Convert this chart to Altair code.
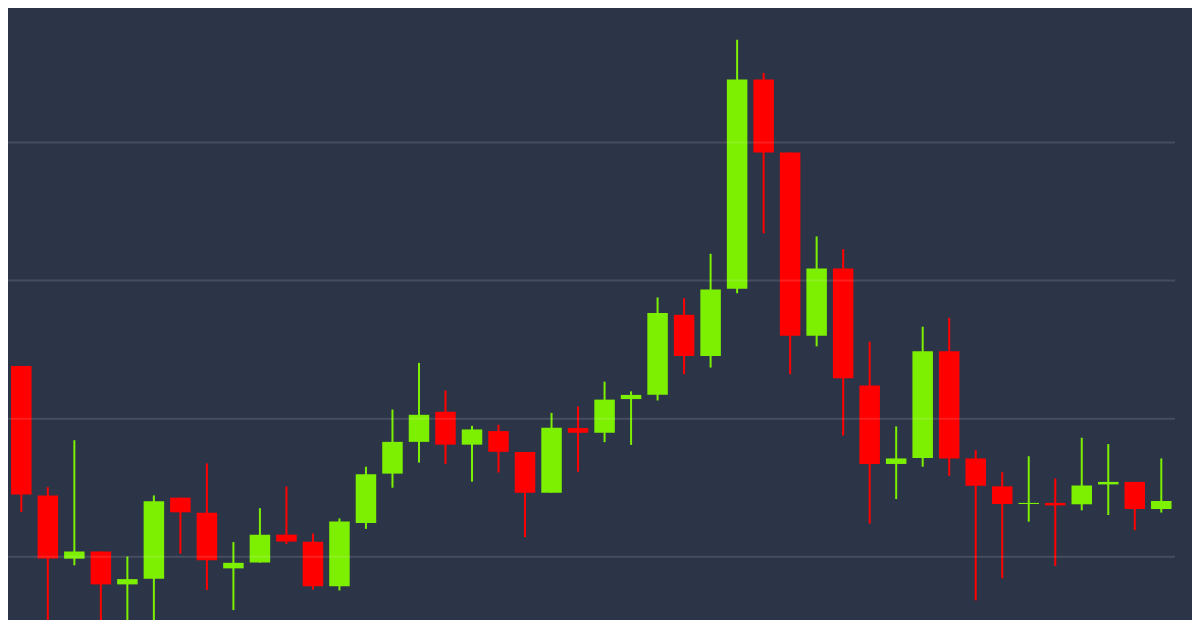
import altair as alt
import pandas as pd

# OHLC values (arbitrary price units)
opens = [7691, 7222, 6993, 7019, 6900, 6920, 7214, 7159, 6958, 6979,
         7080, 7054, 6893, 7122, 7301, 7416, 7525, 7406, 7455, 7379,
         7232, 7466, 7449, 7571, 7587, 7876, 7727, 7970, 8728, 8464,
         7800, 8044, 7620, 7336, 7358, 7744, 7356, 7255, 7191, 7195,
         7190, 7262, 7271, 7173]
highs = [7691, 7252, 7422, 7019, 7001, 7222, 7214, 7338, 7053, 7176,
         7254, 7084, 7139, 7326, 7533, 7702, 7602, 7474, 7478, 7379,
         7521, 7544, 7634, 7599, 7939, 7936, 8097, 8872, 8752, 8464,
         8160, 8114, 7779, 7472, 7833, 7865, 7386, 7306, 7364, 7283,
         7431, 7408, 7271, 7356]
lows = [7162, 6720, 6969, 6720, 6720, 6720, 7011, 6880, 6807, 6979,
        7046, 6881, 6878, 7101, 7250, 7341, 7336, 7272, 7305, 7071,
        7232, 7308, 7415, 7405, 7566, 7661, 7685, 7954, 8171, 7661,
        7762, 7439, 7120, 7209, 7326, 7293, 6842, 6922, 7127, 6967,
        7168, 7151, 7096, 7160]
closes = [7225, 6994, 7019, 6900, 6919, 7201, 7161, 6987, 6978, 7080,
          7055, 6893, 7128, 7299, 7416, 7514, 7406, 7461, 7380, 7232,
          7467, 7449, 7569, 7586, 7883, 7727, 7968, 8728, 8464, 7800,
          8044, 7646, 7336, 7356, 7744, 7356, 7257, 7191, 7195, 7186,
          7258, 7271, 7173, 7202]
grid_levels = [7000, 7500, 8000, 8500]

df = pd.DataFrame({
    "i": list(range(len(opens))),
    "open": opens, "high": highs, "low": lows, "close": closes,
})
df["dir"] = ["up" if c >= o else "down" for o, c in zip(opens, closes)]

x_dom = [-0.314, 43.97]
yscale = alt.Scale(domain=[6771, 8987], nice=False, zero=False)
xenc = alt.X("i:Q", scale=alt.Scale(domain=x_dom, nice=False, zero=False), axis=None)
color = alt.Color("dir:N", scale=alt.Scale(domain=["up", "down"], range=["#7cf000", "#ff0000"]), legend=None)

base = alt.Chart(df).encode(x=xenc, color=color)

wicks = base.mark_rule(strokeWidth=2, clip=True).encode(
    y=alt.Y("low:Q", scale=yscale, axis=None), y2="high:Q")
bodies = base.mark_bar(size=20.5, clip=True).encode(
    y=alt.Y("open:Q", scale=yscale, axis=None), y2="close:Q")

grid = alt.Chart(pd.DataFrame({"level": grid_levels})).mark_rule(
    color="#ffffff", opacity=0.12, strokeWidth=2, clip=True
).encode(
    y=alt.Y("level:Q", scale=yscale, axis=None),
    x=alt.datum(-1.0),
    x2=alt.datum(43.52),
)

chart = alt.layer(wicks, bodies, grid).properties(
    width=1184, height=612, padding=0, autosize="none",
    background="#2c3548",
).configure_view(strokeWidth=0)

chart.save("out.html", embed_options={"renderer": "svg", "actions": False})
